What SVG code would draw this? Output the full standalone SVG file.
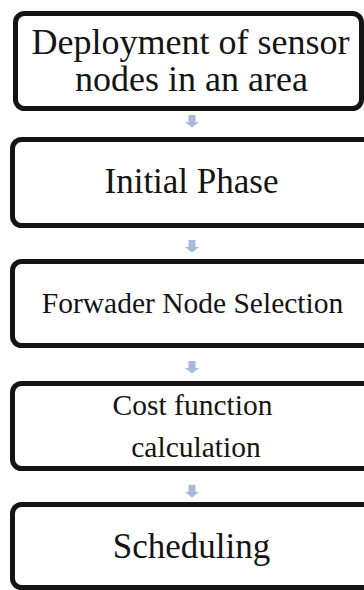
<svg xmlns="http://www.w3.org/2000/svg" width="364" height="590" viewBox="0 0 364 590">
  <defs>
    <style>
      .box { fill: #ffffff; stroke: #141414; stroke-width: 5; }
      text { font-family: 'Liberation Serif', 'Times New Roman', 'DejaVu Serif', serif; fill: #141414; text-anchor: middle; }
      .arrow { fill: #a8bad8; }
    </style>
    <!-- small block arrow pointing down, origin at its top centre -->
    <path id="down" d="M-3.5,0 H3.5 V7 H7 L0,12.5 L-7,7 H-3.5 Z"/>
  </defs>
  <rect width="364" height="590" fill="#ffffff"/>

  <g id="connectors">
    <use href="#down" class="arrow" x="192" y="115"/>
    <use href="#down" class="arrow" x="192" y="240"/>
    <use href="#down" class="arrow" x="192" y="361"/>
    <use href="#down" class="arrow" x="192" y="485"/>
  </g>

  <g id="deployment">
    <rect class="box" x="15.5" y="13.5" width="346" height="95" rx="9"/>
    <text x="190.5" y="54" font-size="36" font-family="Liberation Serif, serif">Deployment of sensor</text>
    <text x="191.5" y="91" font-size="36" font-family="Liberation Serif, serif">nodes in an area</text>
  </g>

  <g id="initial-phase">
    <rect class="box" x="12.5" y="139.5" width="362" height="86" rx="9"/>
    <text x="191.5" y="193" font-size="35" font-family="Liberation Serif, serif">Initial Phase</text>
  </g>

  <g id="forwarder-selection">
    <rect class="box" x="12.5" y="261.5" width="362" height="84" rx="9"/>
    <text x="192.5" y="313" font-size="29.5" font-family="Liberation Serif, serif">Forwader Node Selection</text>
  </g>

  <g id="cost-function">
    <rect class="box" x="12.5" y="383.5" width="362" height="85" rx="9"/>
    <text x="192.5" y="415" font-size="29.5" font-family="Liberation Serif, serif">Cost function</text>
    <text x="196" y="457" font-size="29.5" font-family="Liberation Serif, serif">calculation</text>
  </g>

  <g id="scheduling">
    <rect class="box" x="12.5" y="504.5" width="362" height="83" rx="9"/>
    <text x="191.5" y="558" font-size="35" font-family="Liberation Serif, serif">Scheduling</text>
  </g>
</svg>
